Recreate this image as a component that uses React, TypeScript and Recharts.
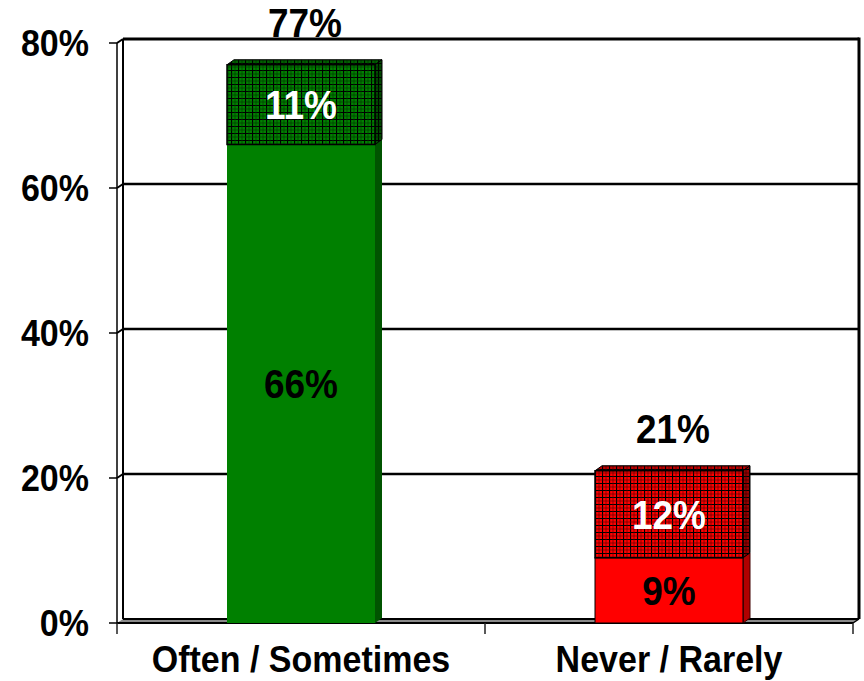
import React from 'react';
import { BarChart, Bar, XAxis, YAxis, CartesianGrid, LabelList } from 'recharts';

// Survey answer groups and their two stacked shares (percent)
const categories = ['Often / Sometimes', 'Never / Rarely'];
const solidShare = [66, 9];
const hatchedShare = [11, 12];
const yTicks = [0, 20, 40, 60, 80];

const data = categories.map((name, i) => ({
  name,
  solid: solidShare[i],
  hatched: hatchedShare[i],
  total: solidShare[i] + hatchedShare[i],
}));

const FONT = '"Liberation Sans", Arial, Helvetica, sans-serif';
const TEXT_STRETCH = 1.1;

// pseudo-3D depth of the walls and of the bars
const WALL_DX = 6;
const WALL_DY = 4;
const BAR_DX = 7;
const BAR_DY = 5;

const palette = [
  { solid: '#008000', side: '#005400', line: '#003a00', edge: 'none' },
  { solid: '#ff0000', side: '#b00000', line: '#600000', edge: '#000' },
];

const HatchDefs = ({ k }: { k: number }) => {
  const c = palette[k];
  return (
    <defs>
      <pattern id={`hatch-${k}`} width="7" height="7" patternUnits="userSpaceOnUse">
        <rect width="7" height="7" fill={c.solid} />
        <path d="M0 0.5H7M0.5 0V7" stroke="#000" strokeWidth="1.2" />
        <path d="M0 4H7M4 0V7" stroke={c.line} strokeWidth="0.7" />
      </pattern>
    </defs>
  );
};

const Block = (props: any) => {
  const { x, y, width: w, height: h, payload, hatched } = props;
  if (w == null || h == null || !(h > 0)) return null;
  const k = Math.max(0, categories.indexOf(payload?.name));
  const c = palette[k];
  const front = hatched ? `url(#hatch-${k})` : c.solid;
  const side = `${x + w},${y + h} ${x + w + BAR_DX},${y + h - BAR_DY} ${x + w + BAR_DX},${y - BAR_DY} ${x + w},${y}`;
  const top = `${x},${y} ${x + BAR_DX},${y - BAR_DY} ${x + w + BAR_DX},${y - BAR_DY} ${x + w},${y}`;
  return (
    <g>
      {hatched && <HatchDefs k={k} />}
      <polygon points={top} fill={front} stroke={hatched ? '#000' : 'none'} strokeWidth={1} />
      {hatched && <polygon points={top} fill="rgba(0,0,0,0.25)" />}
      <polygon
        points={side}
        fill={hatched ? front : c.side}
        stroke={hatched ? '#000' : c.edge === 'none' ? 'none' : '#400000'}
        strokeWidth={1}
      />
      {hatched && <polygon points={side} fill="rgba(0,0,0,0.4)" />}
      <rect x={x} y={y} width={w} height={h} fill={front} stroke={hatched ? '#000' : c.edge} strokeWidth={hatched ? 1.5 : 1} />
    </g>
  );
};

const renderGridLine = (p: any) => {
  const { x, y, width, height, y1, index } = p;
  const bottom = y + height;
  const isFloor = Math.abs(y1 - bottom) < 0.5;
  const isTop = Math.abs(y1 - y) < 0.5;
  const right = x + width;
  return (
    <g key={`grid-${index}`}>
      {isFloor ? (
        <g>
          <polygon
            points={`${x},${y1} ${x + WALL_DX},${y1 - WALL_DY} ${right + WALL_DX},${y1 - WALL_DY} ${right},${y1}`}
            fill="#8a8a8a"
          />
          <line x1={x + WALL_DX} y1={y1 - WALL_DY} x2={right + WALL_DX} y2={y1 - WALL_DY} stroke="#000" strokeWidth={2} />
          <line x1={x} y1={y1} x2={right} y2={y1} stroke="#000" strokeWidth={2} />
          <line x1={right} y1={y1} x2={right + WALL_DX} y2={y1 - WALL_DY} stroke="#000" strokeWidth={1.5} />
          {Array.from({ length: categories.length + 1 }, (_, i) => {
            const tx = x + (i * width) / categories.length;
            return <line key={i} x1={tx} y1={y1} x2={tx} y2={y1 + 11} stroke="#222" strokeWidth={1.5} />;
          })}
        </g>
      ) : (
        <g>
          <line x1={x} y1={y1} x2={x + WALL_DX} y2={y1 - WALL_DY} stroke="#000" strokeWidth={2} />
          <line
            x1={x + WALL_DX}
            y1={y1 - WALL_DY}
            x2={right + WALL_DX}
            y2={y1 - WALL_DY}
            stroke="#000"
            strokeWidth={isTop ? 3 : 2.5}
          />
        </g>
      )}
      {index === 0 && (
        <g>
          <line x1={x} y1={y} x2={x} y2={bottom} stroke="#000" strokeWidth={1.5} />
          <line x1={x + WALL_DX} y1={y - WALL_DY} x2={x + WALL_DX} y2={bottom - WALL_DY} stroke="#000" strokeWidth={2} />
          <line
            x1={right + WALL_DX}
            y1={y - WALL_DY - 1.5}
            x2={right + WALL_DX}
            y2={bottom - WALL_DY}
            stroke="#000"
            strokeWidth={3}
          />
        </g>
      )}
    </g>
  );
};

// bold text, slightly stretched vertically, centred on (x, y)
const Tall = ({ x, y, anchor, color, size, dy, children }: any) => (
  <g transform={`translate(${x},${y}) scale(1,${TEXT_STRETCH})`}>
    <text x={0} y={0} dy={dy} textAnchor={anchor} fill={color} fontSize={size} fontWeight={700} fontFamily={FONT}>
      {children}
    </text>
  </g>
);

const YTick = (p: any) => (
  <Tall x={p.x} y={p.y} anchor="end" color="#000" size={34} dy="0.36em">
    {`${p.payload.value}%`}
  </Tall>
);

const XTick = (p: any) => (
  <Tall x={p.x} y={p.y + 12} anchor="middle" color="#000" size={34} dy="0.36em">
    {p.payload.value}
  </Tall>
);

const segmentLabel = (color: string) => (p: any) => {
  const vb = p.viewBox ?? p;
  const { x, y, width, height } = vb;
  if (x == null) return null;
  return (
    <Tall x={x + width / 2} y={y + height / 2} anchor="middle" color={color} size={37} dy="0.36em">
      {`${p.value}%`}
    </Tall>
  );
};

const totalLabel = (p: any) => {
  const vb = p.viewBox ?? p;
  const { x, y, width } = vb;
  if (x == null) return null;
  return (
    <Tall x={x + width / 2 + 4} y={y - 42} anchor="middle" color="#000" size={37} dy="0.36em">
      {`${p.value}%`}
    </Tall>
  );
};

export default function App() {
  return (
    <div style={{ position: 'absolute', left: 0, top: 0, background: '#fff' }}>
      <BarChart width={864} height={681} data={data} margin={{ top: 43, right: 11, bottom: 0, left: 0 }}>
        <CartesianGrid vertical={false} horizontal={renderGridLine} />
        <XAxis
          dataKey="name"
          tickLine={false}
          axisLine={false}
          tickSize={0}
          tickMargin={24}
          height={58}
          interval={0}
          tick={<XTick />}
        />
        <YAxis
          domain={[0, 80]}
          ticks={yTicks}
          interval={0}
          width={117}
          axisLine={false}
          tickSize={8}
          tickMargin={20}
          tickLine={{ stroke: '#000', strokeWidth: 1.5 }}
          tick={<YTick />}
        />
        <Bar
          dataKey="solid"
          stackId="s"
          barSize={148}
          isAnimationActive={false}
          shape={(p: any) => <Block {...p} hatched={false} />}
        >
          <LabelList dataKey="solid" content={segmentLabel('#000')} />
        </Bar>
        <Bar
          dataKey="hatched"
          stackId="s"
          barSize={148}
          isAnimationActive={false}
          shape={(p: any) => <Block {...p} hatched />}
        >
          <LabelList dataKey="hatched" content={segmentLabel('#fff')} />
          <LabelList dataKey="total" content={totalLabel} />
        </Bar>
      </BarChart>
    </div>
  );
}
